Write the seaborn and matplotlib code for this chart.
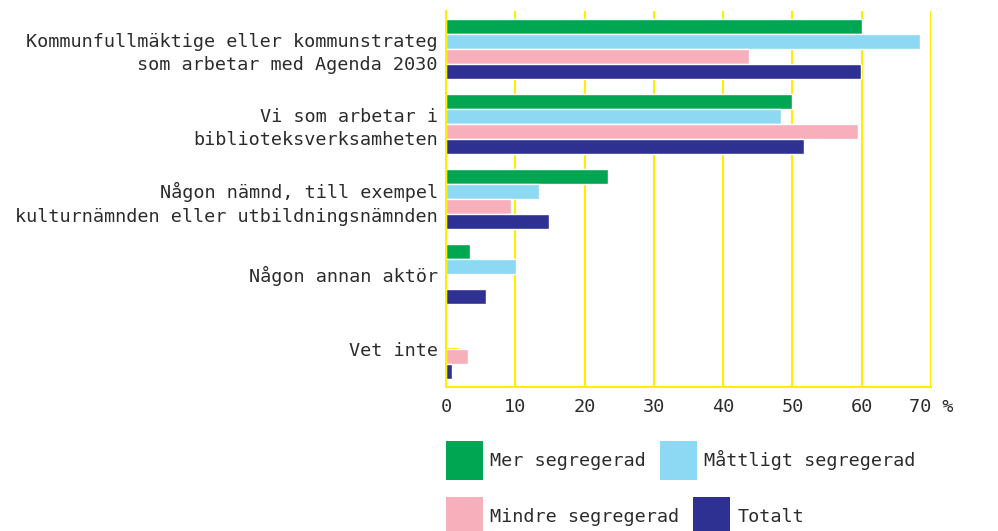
import matplotlib
matplotlib.use("Agg")
import matplotlib.pyplot as plt
import seaborn as sns
import pandas as pd
from matplotlib.patches import Patch

categories = [
    "Kommunfullmäktige eller kommunstrateg\nsom arbetar med Agenda 2030",
    "Vi som arbetar i\nbiblioteksverksamheten",
    "Någon nämnd, till exempel\nkulturnämnden eller utbildningsnämnden",
    "Någon annan aktör",
    "Vet inte",
]
series = ["Mer segregerad", "Måttligt segregerad", "Mindre segregerad", "Totalt"]
mer = [60.0, 50.0, 23.4, 3.5, 0.0]
mattligt = [68.4, 48.4, 13.4, 10.1, 0.0]
mindre = [43.8, 59.4, 9.4, 0.0, 3.2]
totalt = [59.9, 51.7, 14.9, 5.8, 0.9]
xticks = [0, 10, 20, 30, 40, 50, 60, 70]
xticklabels = ["0", "10", "20", "30", "40", "50", "60", "70 %"]

colors = ["#00A651", "#8DD8F2", "#F6AFBB", "#2E3192"]
yellow = "#FFEE00"
textc = "#2b2b2b"
fs = 13.3

rows = []
for s, vals in zip(series, [mer, mattligt, mindre, totalt]):
    for c, v in zip(categories, vals):
        rows.append({"cat": c, "serie": s, "val": v})
df = pd.DataFrame(rows)

sns.set_theme(style="white")
plt.rcParams["font.family"] = ["DejaVu Sans Mono", "DejaVu Sans"]
plt.rcParams["text.color"] = textc

fig = plt.figure(figsize=(9.98, 5.31), dpi=100)
ax = fig.add_axes([446 / 998, 1 - 387 / 531, (931 - 446) / 998, (387 - 11) / 531])

sns.barplot(data=df, y="cat", x="val", hue="serie", order=categories,
            hue_order=series, palette=colors, orient="h", width=0.8,
            edgecolor="white", linewidth=1, saturation=1, legend=False, ax=ax)

ax.set_xlim(0, 70)
ax.set_ylim(4.5, -0.5)
ax.set_axisbelow(True)
ax.set_xticks(xticks)
ax.set_xticklabels(xticklabels)
ax.grid(axis="x", color=yellow, linewidth=1.5)
ax.grid(axis="y", visible=False)
ax.set_xlabel("")
ax.set_ylabel("")
for s in ["top", "right"]:
    ax.spines[s].set_visible(False)
for s in ["left", "bottom"]:
    ax.spines[s].set_color(yellow)
    ax.spines[s].set_linewidth(1.5)
ax.tick_params(axis="x", length=0, pad=8, labelsize=fs, labelcolor=textc)
ax.tick_params(axis="y", direction="in", length=9, width=1.5, color=yellow,
               pad=6, labelsize=fs, labelcolor=textc, left=True)
for t in ax.get_yticklabels():
    t.set_linespacing(1.4)

handles = [Patch(facecolor=c, edgecolor="none") for c in colors]
leg_kw = dict(frameon=False, fontsize=fs, handlelength=2.0, handleheight=2.85,
              handletextpad=0.4, columnspacing=0.75, borderpad=0,
              borderaxespad=0, loc="upper left", ncol=2, labelcolor=textc)
leg1 = fig.legend(handles[:2], series[:2],
                  bbox_to_anchor=(446 / 998, 1 - 441 / 531), **leg_kw)
leg2 = fig.legend(handles[2:], series[2:],
                  bbox_to_anchor=(446 / 998, 1 - 497 / 531), **leg_kw)

fig.savefig("out.png", dpi=100)
